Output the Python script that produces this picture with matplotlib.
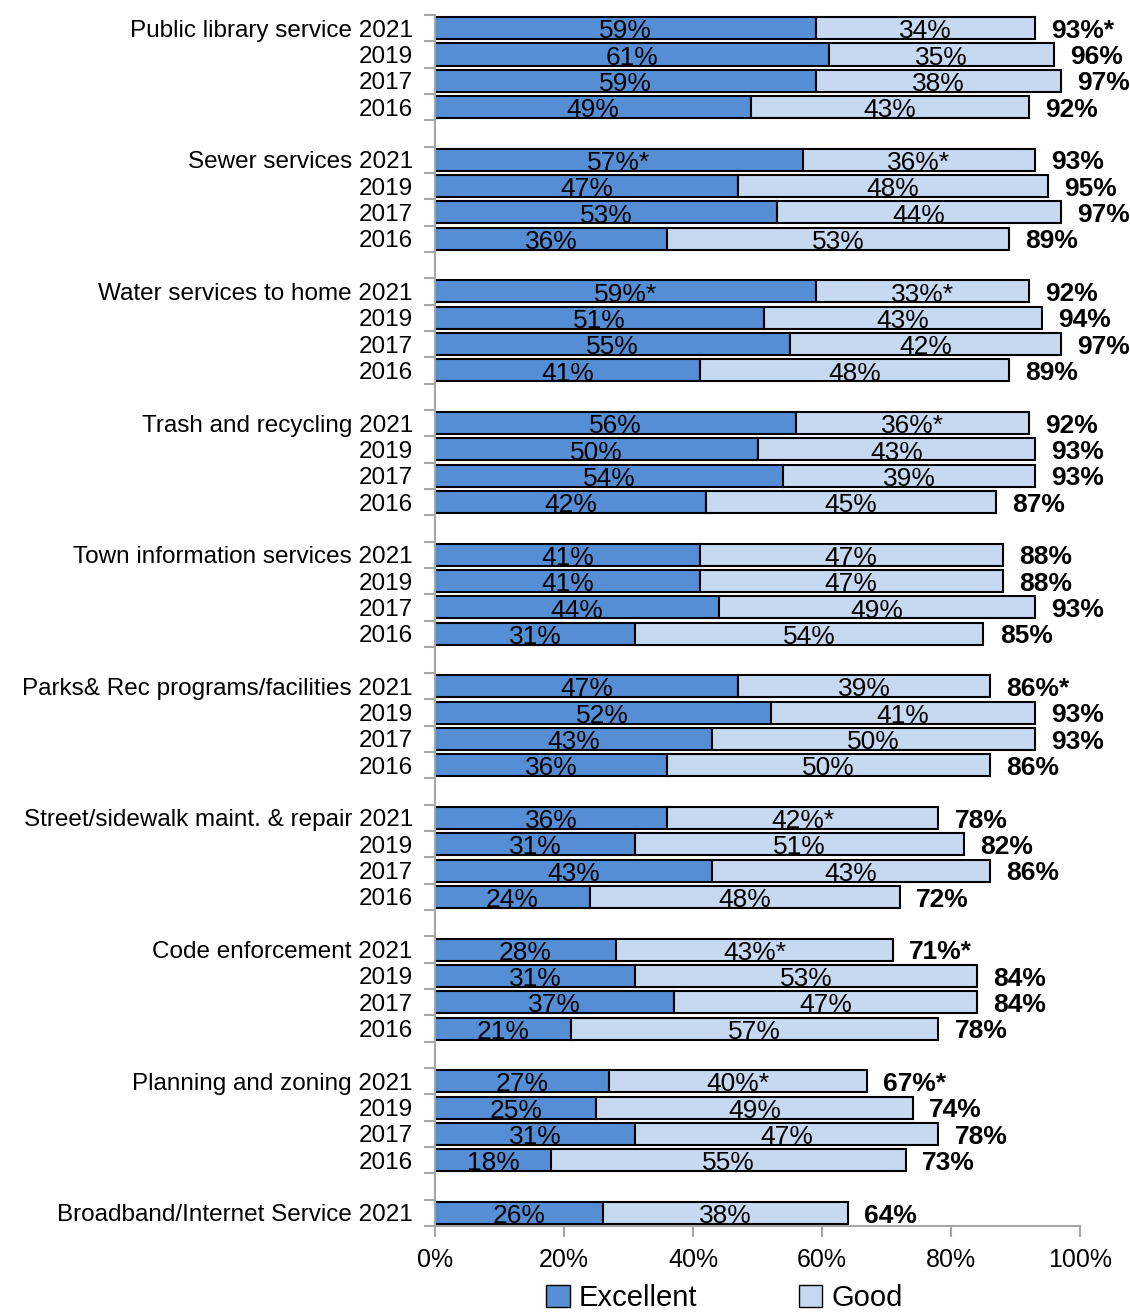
import numpy as np
import matplotlib.pyplot as plt
from matplotlib.patches import Patch

plt.rcParams['font.family'] = ['Liberation Sans Narrow', 'Liberation Sans', 'DejaVu Sans']

categories = ['Public library service', 'Sewer services', 'Water services to home',
              'Trash and recycling', 'Town information services',
              'Parks& Rec programs/facilities', 'Street/sidewalk maint. & repair',
              'Code enforcement', 'Planning and zoning', 'Broadband/Internet Service']
years = ['2021', '2019', '2017', '2016']

excellent = [[59, 61, 59, 49], [57, 47, 53, 36], [59, 51, 55, 41], [56, 50, 54, 42],
             [41, 41, 44, 31], [47, 52, 43, 36], [36, 31, 43, 24], [28, 31, 37, 21],
             [27, 25, 31, 18], [26]]
good = [[34, 35, 38, 43], [36, 48, 44, 53], [33, 43, 42, 48], [36, 43, 39, 45],
        [47, 47, 49, 54], [39, 41, 50, 50], [42, 51, 43, 48], [43, 53, 47, 57],
        [40, 49, 47, 55], [38]]
# statistically significant change markers (2021 rows)
exc_star = [[False] * 4, [True, 0, 0, 0], [True, 0, 0, 0], [False] * 4, [False] * 4,
            [False] * 4, [False] * 4, [False] * 4, [False] * 4, [False]]
good_star = [[False] * 4, [True, 0, 0, 0], [True, 0, 0, 0], [True, 0, 0, 0], [False] * 4,
             [False] * 4, [True, 0, 0, 0], [True, 0, 0, 0], [True, 0, 0, 0], [False]]
total_star = [[True, 0, 0, 0], [False] * 4, [False] * 4, [False] * 4, [False] * 4,
              [True, 0, 0, 0], [False] * 4, [True, 0, 0, 0], [True, 0, 0, 0], [False]]

c_exc = '#558ed5'
c_good = '#c6d9f1'
grey = '#a6a6a6'

fig = plt.figure(figsize=(11.3, 13.12), dpi=100)
ax = fig.add_axes([0.385, 0.0655, 0.571, 0.9231])

pos, labels = [], []
rows = []
slot = 0
for g, cat in enumerate(categories):
    for j in range(len(excellent[g])):
        lab = years[j] if j else cat + ' ' + years[j]
        rows.append((slot, excellent[g][j], good[g][j],
                     bool(exc_star[g][j]), bool(good_star[g][j]), bool(total_star[g][j])))
        pos.append(slot)
        labels.append(lab)
        slot += 1
    slot += 1
n_slots = slot - 1

h = 0.84
for y, e, gd, es, gs, ts in rows:
    ax.barh(y, e / 100, height=h, color=c_exc, edgecolor='black', linewidth=1.5)
    ax.barh(y, gd / 100, left=e / 100, height=h, color=c_good, edgecolor='black', linewidth=1.5)
    ax.text(e / 200, y + 0.12, f'{e}%' + ('*' if es else ''), ha='center', va='center', fontsize=19)
    ax.text(e / 100 + gd / 200, y + 0.12, f'{gd}%' + ('*' if gs else ''), ha='center', va='center', fontsize=19)
    ax.text((e + gd) / 100 + 0.025, y + 0.1, f'{e + gd}%' + ('*' if ts else ''), ha='left', va='center',
            fontsize=19, fontweight='bold')

ax.set_xlim(0, 1)
ax.set_ylim(n_slots - 0.5, -0.5)
ax.set_yticks(pos)
ax.set_yticklabels(labels, fontsize=17.5)
ax.set_yticks(np.arange(-0.5, n_slots, 1.0), minor=True)
ax.tick_params(axis='y', which='major', length=0, pad=16)
ax.tick_params(axis='y', which='minor', length=8, color=grey, width=1.5)
ax.set_xticks(np.linspace(0, 1, 6))
ax.set_xticklabels([f'{int(v)}%' for v in np.linspace(0, 100, 6)], fontsize=18)
ax.tick_params(axis='x', length=8, color=grey, width=1.5, pad=8)

for s in ['top', 'right']:
    ax.spines[s].set_visible(False)
for s in ['left', 'bottom']:
    ax.spines[s].set_color(grey)
    ax.spines[s].set_linewidth(1.5)

handles = [Patch(facecolor=c_exc, edgecolor='black', label='Excellent'),
           Patch(facecolor=c_good, edgecolor='black', label='Good')]
fig.legend(handles=handles, loc='center', bbox_to_anchor=(0.641, 0.0107), ncol=2, frameon=False,
           fontsize=21, handlelength=0.8, handleheight=0.8, handletextpad=0.3, columnspacing=3.5)

fig.savefig('out.png', dpi=100)
